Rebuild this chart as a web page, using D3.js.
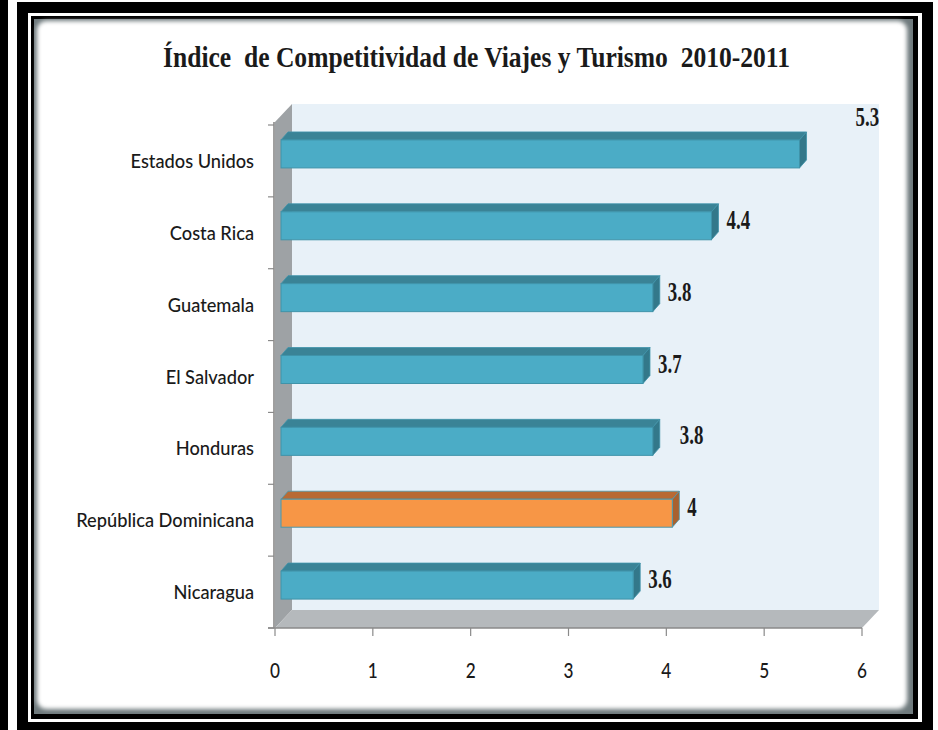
<!DOCTYPE html>
<html>
<head>
<meta charset="utf-8">
<script src="https://cdn.jsdelivr.net/npm/d3@7"></script>
<style>
  body { margin: 0; background: #ffffff; }
  svg { display: block; }
</style>
</head>
<body>
<div id="chart"></div>
<script>
// data
var categories = ["Estados Unidos", "Costa Rica", "Guatemala", "El Salvador", "Honduras", "República Dominicana", "Nicaragua"];
var values = [5.3, 4.4, 3.8, 3.7, 3.8, 4, 3.6];
var highlighted = ["República Dominicana"];
var tickValues = [0, 1, 2, 3, 4, 5, 6];
var title = "Índice  de Competitividad de Viajes y Turismo  2010-2011";

// labels that were dragged by hand in the original
var labelNudge = { "Estados Unidos": [41, -31], "Honduras": [12, 0] };

var w = 938, h = 730;
var depth = { dx: 17, dy: -18 };
var barDepth = { dx: 7, dy: -8 };

var svg = d3.select("#chart").append("svg")
  .attr("width", w)
  .attr("height", h);

var defs = svg.append("defs");
defs.append("filter")
  .attr("id", "soft")
  .attr("x", "-5%").attr("y", "-5%")
  .attr("width", "110%").attr("height", "110%")
  .append("feGaussianBlur")
  .attr("stdDeviation", 2.2);

// frame
svg.append("rect").attr("x", 0).attr("y", 0).attr("width", 8).attr("height", h).attr("fill", "#000");
svg.append("rect").attr("x", 17).attr("y", 2).attr("width", 916).attr("height", 728).attr("fill", "#000");
svg.append("rect").attr("x", 28).attr("y", 13).attr("width", 894).attr("height", 709).attr("fill", "#fff");
svg.append("rect").attr("x", 31).attr("y", 16).attr("width", 887).attr("height", 703).attr("fill", "#000");
svg.append("rect").attr("x", 34).attr("y", 19).attr("width", 879).attr("height", 695).attr("fill", "#6f7a7d");
svg.append("rect").attr("x", 37).attr("y", 21).attr("width", 870).attr("height", 688)
  .attr("rx", 9)
  .attr("fill", "#ffffff")
  .attr("filter", "url(#soft)");

// condensed text helper
function squeezed(parent, x, y, sx) {
  return parent.append("g")
    .attr("transform", "translate(" + x + "," + y + ") scale(" + sx + ",1)")
    .append("text");
}

// title
svg.append("text")
  .attr("x", 163)
  .attr("y", 67)
  .attr("textLength", 627)
  .attr("lengthAdjust", "spacingAndGlyphs")
  .attr("font-family", "'Liberation Serif', 'DejaVu Serif', serif")
  .attr("font-weight", "bold")
  .attr("font-size", 29)
  .attr("fill", "#1a1a1a")
  .style("white-space", "pre")
  .text(title);

var x = d3.scaleLinear()
  .domain([0, 6])
  .range([275, 862]);

var y = d3.scaleBand()
  .domain(categories)
  .range([125, 628])
  .padding(0);

var x0 = x(0), x1 = x(6), yTop = y.range()[0], yBot = y.range()[1];

var chart = svg.append("g").attr("class", "plot");

// back wall
chart.append("rect")
  .attr("x", x0 + depth.dx)
  .attr("y", yTop + depth.dy - 3)
  .attr("width", x1 - x0)
  .attr("height", yBot - yTop + 3)
  .attr("fill", "#e8f1f8");

// left wall
chart.append("polygon")
  .attr("points", [
    [x0, yBot], [x0, yTop - 3], [x0 + depth.dx, yTop + depth.dy - 3], [x0 + depth.dx, yBot + depth.dy]
  ].join(" "))
  .attr("fill", "#9ea2a5");

// floor
chart.append("polygon")
  .attr("points", [
    [x0, yBot], [x0 + depth.dx, yBot + depth.dy], [x1 + depth.dx, yBot + depth.dy], [x1, yBot]
  ].join(" "))
  .attr("fill", "#b5b9bc");

// axes lines
chart.append("line")
  .attr("x1", x0 - 1).attr("x2", x0 - 1)
  .attr("y1", yTop - 3).attr("y2", yBot)
  .attr("stroke", "#7f7f7f").attr("stroke-width", 1.5);

chart.append("g")
  .selectAll("line")
  .data(categories.concat(["_end"]))
  .enter().append("line")
  .attr("x1", x0 - 7).attr("x2", x0 - 1)
  .attr("y1", function(d) { return d === "_end" ? yBot : y(d); })
  .attr("y2", function(d) { return d === "_end" ? yBot : y(d); })
  .attr("stroke", "#8a8a8a").attr("stroke-width", 1.2);

chart.append("line")
  .attr("x1", x0 - 7).attr("x2", x1)
  .attr("y1", yBot).attr("y2", yBot)
  .attr("stroke", "#8a8a8a").attr("stroke-width", 1.5);

chart.append("g")
  .selectAll("line")
  .data(tickValues)
  .enter().append("line")
  .attr("x1", function(d) { return x(d); })
  .attr("x2", function(d) { return x(d); })
  .attr("y1", yBot).attr("y2", yBot + 8)
  .attr("stroke", "#8a8a8a").attr("stroke-width", 1.2);

// tick labels
tickValues.forEach(function(d) {
  squeezed(svg, x(d), 678, 0.82)
    .attr("text-anchor", "middle")
    .attr("font-family", "Lato, 'Liberation Sans', sans-serif")
    .attr("font-size", 21)
    .attr("font-weight", 500)
    .attr("fill", "#1a1a1a")
    .text(d);
});

// category labels
categories.forEach(function(c) {
  squeezed(svg, 254, y(c) + y.bandwidth() / 2 + 7, 0.96)
    .attr("text-anchor", "end")
    .attr("font-family", "Lato, 'Liberation Sans', sans-serif")
    .attr("font-size", 19)
    .attr("font-weight", 500)
    .attr("fill", "#1a1a1a")
    .text(c);
});

// bars
var barOffX = 6, barOffY = -7;
var barH = 28;

var bars = chart.append("g")
  .selectAll("g")
  .data(categories.map(function(c, i) { return { name: c, value: values[i] }; }))
  .enter().append("g")
  .attr("class", "bar");

function isHi(d) { return highlighted.indexOf(d.name) >= 0; }

bars.each(function(d) {
  var g = d3.select(this);
  var bx0 = x(0) + barOffX;
  var bx1 = x(d.value) + barOffX;
  var cy = y(d.name) + y.bandwidth() / 2 + barOffY;
  var t = cy - barH / 2, b = cy + barH / 2;
  var hi = isHi(d);
  var front = hi ? "#f79646" : "#4bacc6";
  var top = hi ? "#b86a34" : "#3a8396";
  var side = hi ? "#a9612f" : "#33788a";
  var edge = hi ? "#4a98ad" : "#3f93a9";

  g.append("polygon")
    .attr("points", [[bx0, t], [bx1, t], [bx1 + barDepth.dx, t + barDepth.dy], [bx0 + barDepth.dx, t + barDepth.dy]].join(" "))
    .attr("fill", top)
    .attr("stroke", edge).attr("stroke-width", 0.8);

  g.append("polygon")
    .attr("points", [[bx1, t], [bx1 + barDepth.dx, t + barDepth.dy], [bx1 + barDepth.dx, b + barDepth.dy], [bx1, b]].join(" "))
    .attr("fill", side)
    .attr("stroke", edge).attr("stroke-width", 0.8);

  g.append("rect")
    .attr("x", bx0).attr("y", t)
    .attr("width", bx1 - bx0).attr("height", barH)
    .attr("fill", front)
    .attr("stroke", edge).attr("stroke-width", 1);

  // value label
  var nudge = labelNudge[d.name] || [0, 0];
  squeezed(svg, bx1 + barDepth.dx + 8 + nudge[0], cy - 6 + 9 + nudge[1], 0.7)
    .attr("text-anchor", "start")
    .attr("font-family", "'Liberation Serif', 'DejaVu Serif', serif")
    .attr("font-weight", "bold")
    .attr("font-size", 27)
    .attr("fill", "#1a1a1a")
    .text(String(d.value));
});
</script>
</body>
</html>
